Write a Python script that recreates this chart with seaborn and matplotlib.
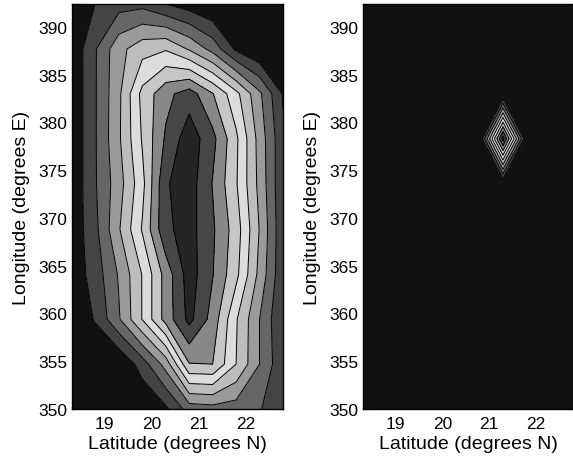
import matplotlib
matplotlib.use("Agg")
import numpy as np
import seaborn as sns
import matplotlib.pyplot as plt

# grid coordinates
lat = [18.3, 18.8, 19.3, 19.8, 20.3, 20.8, 21.3, 21.8, 22.3, 22.8]
lon = [350.0, 354.7, 359.4, 364.1, 368.8, 373.6, 378.3, 383.0, 387.7, 392.4]

# left panel field, one row per longitude (bottom to top), one value per latitude
left_lon_350 = [0.0, 0.0, 0.0, 0.0, 0.8, 2.45, 2.6, 2.5, 2.1, 1.0]
left_lon_355 = [0.0, 0.0, 0.0, 1.5, 3.4, 6.95, 7.0, 5.0, 3.0, 1.2]
left_lon_359 = [0.1, 1.1, 2.9, 5.05, 7.4, 9.3, 7.6, 5.1, 3.0, 1.0]
left_lon_364 = [0.33, 1.48, 3.1, 5.05, 7.4, 9.5, 8.05, 6.28, 3.7, 1.2]
left_lon_369 = [0.3, 1.75, 3.9, 6.1, 8.8, 9.4, 8.15, 6.5, 3.95, 1.2]
left_lon_374 = [0.21, 1.93, 3.57, 5.7, 8.9, 9.5, 7.95, 6.1, 3.7, 1.15]
left_lon_378 = [0.21, 1.93, 3.85, 6.1, 8.15, 9.6, 8.3, 6.2, 3.6, 1.2]
left_lon_383 = [0.21, 1.93, 3.8, 6.3, 7.7, 8.5, 7.05, 5.3, 3.2, 0.9]
left_lon_388 = [0.2, 1.93, 3.68, 4.6, 4.9, 3.88, 2.64, 0.8, 0.0, 0.0]
left_lon_392 = [0.0, 1.02, 1.6, 1.7, 1.0, 0.5, 0.0, 0.0, 0.0, 0.0]

# right panel field: single peak
right_lon_350 = [0, 0, 0, 0, 0, 0, 0, 0, 0, 0]
right_lon_355 = [0, 0, 0, 0, 0, 0, 0, 0, 0, 0]
right_lon_359 = [0, 0, 0, 0, 0, 0, 0, 0, 0, 0]
right_lon_364 = [0, 0, 0, 0, 0, 0, 0, 0, 0, 0]
right_lon_369 = [0, 0, 0, 0, 0, 0, 0, 0, 0, 0]
right_lon_374 = [0, 0, 0, 0, 0, 0, 0, 0, 0, 0]
right_lon_378 = [0, 0, 0, 0, 0, 0, 9.5, 0, 0, 0]
right_lon_383 = [0, 0, 0, 0, 0, 0, 0, 0, 0, 0]
right_lon_388 = [0, 0, 0, 0, 0, 0, 0, 0, 0, 0]
right_lon_392 = [0, 0, 0, 0, 0, 0, 0, 0, 0, 0]

x_ticks = [19, 20, 21, 22]
y_ticks = [350, 355, 360, 365, 370, 375, 380, 385, 390]
x_label = "Latitude (degrees N)"
y_label = "Longitude (degrees E)"

levels = [-1, 1, 2, 3, 4, 5, 6, 7, 8, 9, 11]
band_colors = ["#111111", "#444444", "#666666", "#9a9a9a", "#bdbdbd",
               "#dcdcdc", "#c6c6c6", "#888888", "#464646", "#252525"]

Z_left = np.array([left_lon_350, left_lon_355, left_lon_359, left_lon_364, left_lon_369,
                   left_lon_374, left_lon_378, left_lon_383, left_lon_388, left_lon_392])
Z_right = np.array([right_lon_350, right_lon_355, right_lon_359, right_lon_364, right_lon_369,
                    right_lon_374, right_lon_378, right_lon_383, right_lon_388, right_lon_392],
                   dtype=float)

sns.set_theme(style="ticks")
plt.rcParams['font.family'] = ['Liberation Sans', 'DejaVu Sans']

W, H = 573, 460
fig = plt.figure(figsize=(W / 100, H / 100), dpi=100)
ax1 = fig.add_axes([72 / W, 50 / H, 211 / W, 405 / H])
ax2 = fig.add_axes([363 / W, 50 / H, 210 / W, 405 / H])

for ax, Z in [(ax1, Z_left), (ax2, Z_right)]:
    ax.contourf(lat, lon, Z, levels=levels, colors=band_colors)
    ax.contour(lat, lon, Z, levels=levels[1:-1], colors="black", linewidths=0.7)
    ax.set_xlim(18.3, 22.8)
    ax.set_ylim(350, 392.4)
    ax.set_xticks(x_ticks)
    ax.set_yticks(y_ticks)
    ax.tick_params(direction="in", top=True, right=True, length=4, width=0.8,
                   labelsize=12.5, colors="black")
    ax.tick_params(axis="x", pad=5)
    ax.tick_params(axis="y", pad=3.5)
    for s in ax.spines.values():
        s.set_color("black")
        s.set_linewidth(1.0)
    ax.set_xlabel(x_label, fontsize=14, color="black", labelpad=3)
    ax.set_ylabel(y_label, fontsize=14, color="black", labelpad=6)

fig.savefig("out.png", dpi=100)
